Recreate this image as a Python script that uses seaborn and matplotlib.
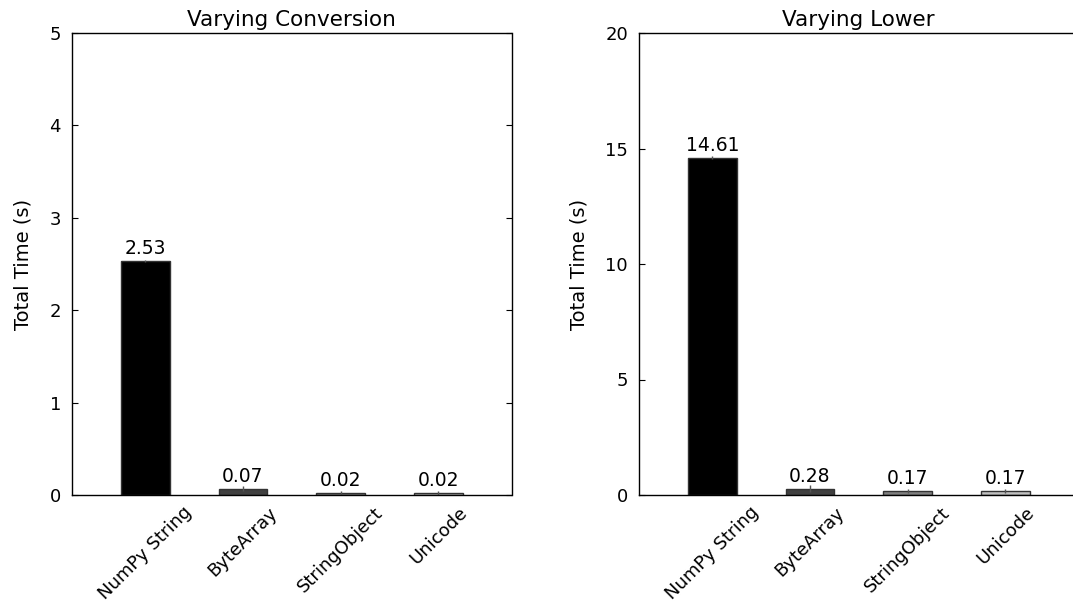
import matplotlib
matplotlib.use("Agg")
import matplotlib.pyplot as plt
import seaborn as sns
import pandas as pd
import numpy as np

categories = ["NumPy String", "ByteArray", "StringObject", "Unicode"]
conversion_times = [2.53, 0.07, 0.02, 0.02]
conversion_err = [0.01, 0.03, 0.02, 0.02]
lower_times = [14.61, 0.28, 0.17, 0.17]
lower_err = [0.05, 0.14, 0.1, 0.1]
bar_colors = ["#000000", "#404040", "#808080", "#c0c0c0"]

sns.set_style("ticks")
plt.rcParams["font.family"] = ["DejaVu Sans"]
for key in ["text.color", "axes.labelcolor", "xtick.color", "ytick.color"]:
    plt.rcParams[key] = "black"

W, H = 1073, 603
fig = plt.figure(figsize=(W / 100, H / 100), dpi=100)
ax1 = fig.add_axes([72 / W, 108 / H, 439.5 / W, 462 / H])
ax2 = fig.add_axes([639 / W, 108 / H, 439.5 / W, 462 / H])

panels = [
    (ax1, conversion_times, conversion_err, "Varying Conversion", 5, [0, 1, 2, 3, 4, 5]),
    (ax2, lower_times, lower_err, "Varying Lower", 20, [0, 5, 10, 15, 20]),
]

for ax, vals, errs, title, ymax, yticks in panels:
    df = pd.DataFrame({"impl": categories, "time": vals})
    sns.barplot(data=df, x="impl", y="time", hue="impl", palette=bar_colors,
                legend=False, width=0.5, errorbar=None, ax=ax,
                edgecolor="#333333", linewidth=1.0)
    ax.errorbar(np.arange(len(vals)), vals, yerr=errs, fmt="none",
                ecolor="#555555", elinewidth=1.0, capsize=0)
    for i, v in enumerate(vals):
        ax.annotate(f"{v:.2f}", (i, v), xytext=(0, 2), textcoords="offset points",
                    ha="center", va="bottom", fontsize=13.5)
    ax.set_xlim(-0.75, 3.75)
    ax.set_ylim(0, ymax)
    ax.set_yticks(yticks)
    ax.set_title(title, fontsize=15.5, pad=5)
    ax.set_ylabel("Total Time (s)", fontsize=14, labelpad=12)
    ax.set_xlabel("")
    ax.tick_params(axis="y", direction="in", right=True, length=4.3, labelsize=13, pad=8)
    ax.tick_params(axis="x", length=0, labelsize=13, pad=6)
    plt.setp(ax.get_xticklabels(), rotation=45, ha="center")
    for s in ax.spines.values():
        s.set_visible(True)
        s.set_linewidth(1.0)
        s.set_color("black")

# the second panel runs past the figure edge, so its right frame line is not shown
ax2.spines["right"].set_visible(False)

fig.savefig("out.png", dpi=100, facecolor="white")
